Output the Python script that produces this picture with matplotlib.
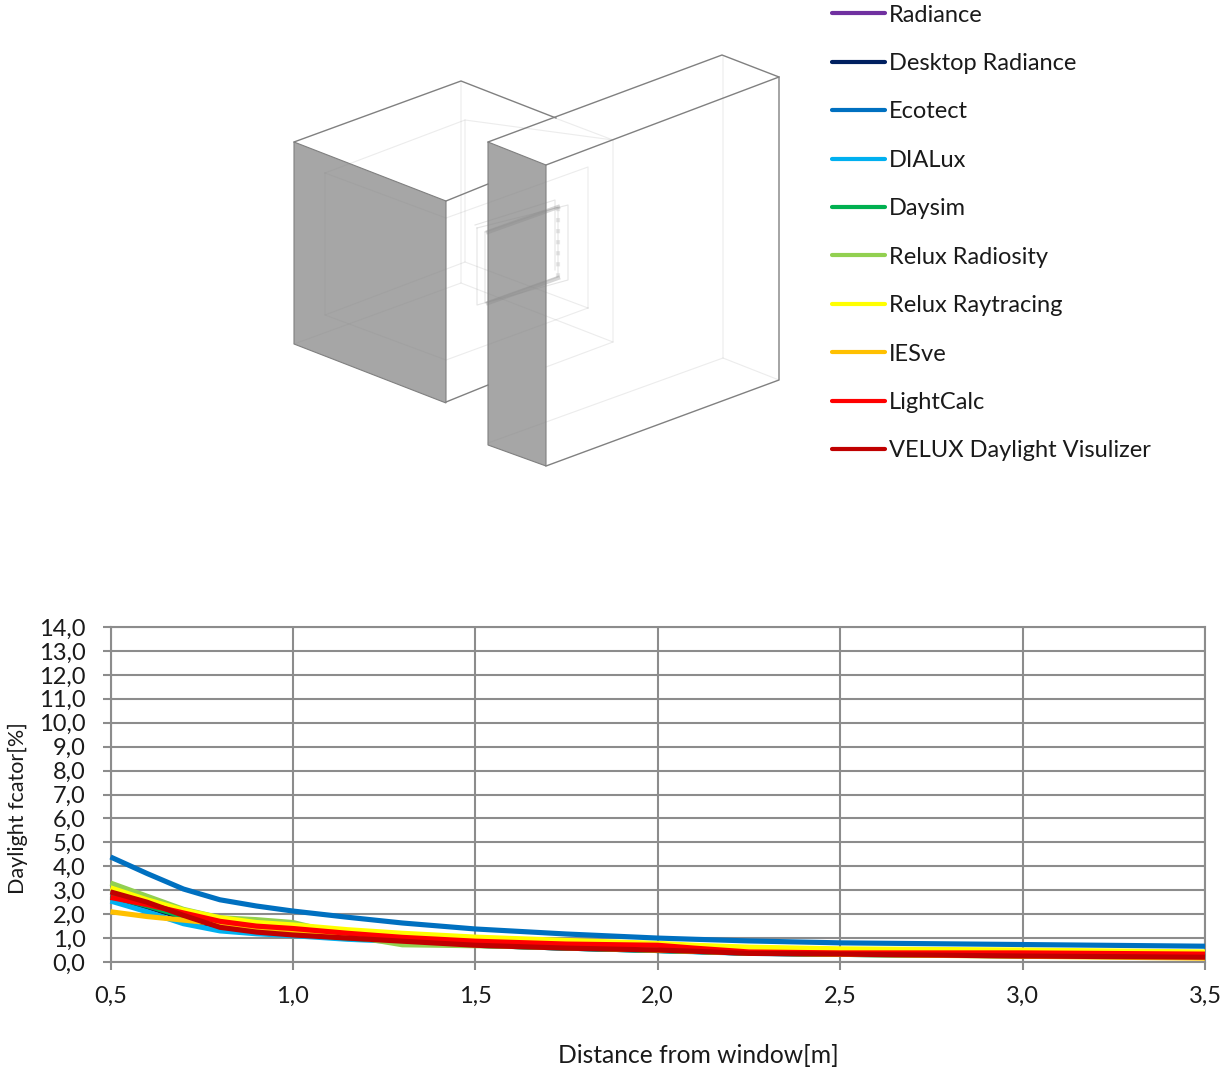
"""
Daylight factor vs distance from window, with the room sketch and legend on top.
"""

import matplotlib
matplotlib.use('Agg')
import matplotlib.pyplot as plt
from matplotlib.patches import Polygon

plt.rcParams['font.family'] = ['Lato', 'DejaVu Sans']

# --- chart values ---
distance = [0.5, 0.6, 0.7, 0.8, 0.9, 1.0, 1.15, 1.3, 1.5, 1.75, 2.0, 2.1, 2.25, 2.5, 3.0, 3.5]

radiance = [2.8, 2.4, 1.9, 1.5, 1.3, 1.2, 1.0, 0.88, 0.72, 0.6, 0.5, 0.45, 0.38, 0.33, 0.27, 0.22]
desktop_radiance = [2.7, 2.3, 1.85, 1.45, 1.28, 1.15, 1.0, 0.87, 0.7, 0.58, 0.48, 0.44, 0.37, 0.32, 0.26, 0.21]
ecotect = [4.39, 3.7, 3.05, 2.6, 2.34, 2.13, 1.87, 1.63, 1.38, 1.17, 1.0, 0.95, 0.88, 0.8, 0.73, 0.66]
dialux = [2.55, 2.1, 1.6, 1.3, 1.18, 1.1, 0.95, 0.85, 0.7, 0.58, 0.48, 0.43, 0.36, 0.32, 0.25, 0.2]
daysim = [2.75, 2.35, 1.9, 1.5, 1.3, 1.18, 1.0, 0.87, 0.7, 0.58, 0.48, 0.44, 0.37, 0.32, 0.26, 0.21]
relux_radiosity = [3.3, 2.75, 2.2, 1.85, 1.77, 1.65, 1.1, 0.72, 0.68, 0.6, 0.5, 0.45, 0.38, 0.33, 0.28, 0.24]
relux_raytracing = [3.1, 2.6, 2.17, 1.85, 1.65, 1.55, 1.35, 1.2, 1.04, 0.9, 0.78, 0.7, 0.62, 0.55, 0.5, 0.42]
iesve = [2.1, 1.9, 1.75, 1.6, 1.4, 1.25, 1.05, 0.9, 0.72, 0.6, 0.5, 0.45, 0.38, 0.32, 0.24, 0.16]
lightcalc = [2.7, 2.4, 2.05, 1.7, 1.5, 1.4, 1.2, 1.03, 0.87, 0.75, 0.7, 0.58, 0.42, 0.38, 0.38, 0.33]
velux = [2.93, 2.5, 1.95, 1.45, 1.25, 1.13, 1.0, 0.87, 0.7, 0.58, 0.5, 0.45, 0.36, 0.33, 0.25, 0.2]

series_names = ['Radiance', 'Desktop Radiance', 'Ecotect', 'DIALux', 'Daysim',
                'Relux Radiosity', 'Relux Raytracing', 'IESve', 'LightCalc',
                'VELUX Daylight Visulizer']
series_values = [radiance, desktop_radiance, ecotect, dialux, daysim,
                 relux_radiosity, relux_raytracing, iesve, lightcalc, velux]
series_colors = ['#7030a0', '#002060', '#0070c0', '#00b0f0', '#00b050',
                 '#92d050', '#ffff00', '#ffc000', '#ff0000', '#c00000']
# Ecotect sits on top of the others in the picture
series_zorder = [3, 3, 9, 3, 3, 4, 5, 4, 6, 7]

x_ticks = [0.5, 1.0, 1.5, 2.0, 2.5, 3.0, 3.5]
x_labels = ['0,5', '1,0', '1,5', '2,0', '2,5', '3,0', '3,5']
y_ticks = list(range(15))
y_labels = ['0,0', '1,0', '2,0', '3,0', '4,0', '5,0', '6,0', '7,0', '8,0', '9,0',
            '10,0', '11,0', '12,0', '13,0', '14,0']

# --- room sketch, in picture pixels ---
gray_faces = [
    [(294, 142), (446, 201), (446, 403), (294, 344)],
    [(488, 142), (546, 165), (546, 466), (488, 445)],
]
edges = [
    [(294, 142), (461, 81), (556, 118)],
    [(446, 201), (488, 184)],
    [(446, 402), (488, 385)],
    [(488, 142), (722, 55), (779, 77), (546, 165)],
    [(779, 77), (779, 380), (546, 466)],
]
faint_edges = [
    [(461, 81), (461, 283), (294, 344)],
    [(461, 283), (613, 342), (613, 140), (555, 118)],
    [(613, 342), (546, 367)],
    [(723, 56), (723, 358), (779, 380)],
    [(723, 358), (488, 443)],
    [(325, 173), (465, 120), (613, 140)],
    [(465, 120), (465, 262), (325, 315), (325, 173)],
    [(325, 173), (446, 218)],
    [(325, 315), (446, 360), (588, 308)],
    [(446, 218), (588, 167), (588, 308)],
    [(465, 262), (588, 308)],
]
window_edges = [
    [(477, 228), (568, 205), (568, 280), (477, 305), (477, 228)],
    [(485, 232), (558, 207), (558, 277), (485, 303), (485, 232)],
    [(475, 225), (555, 200), (555, 270)],
]
window_bars = [
    [(488, 232), (558, 207)],
    [(488, 303), (558, 278)],
]
window_side = [(558, 207), (558, 278)]

fig = plt.figure(figsize=(12.23, 10.7), dpi=100)

ax = fig.add_axes([110.5 / 1223, 108 / 1070, 1094.5 / 1223, 335 / 1070])
for name, values, color, z in zip(series_names, series_values, series_colors, series_zorder):
    ax.plot(distance, values, color=color, linewidth=3.7, label=name, zorder=z,
            solid_capstyle='butt', solid_joinstyle='round', clip_on=False)

ax.set_xlim(0.5, 3.5)
ax.set_ylim(0, 14)
ax.set_xticks(x_ticks)
ax.set_xticklabels(x_labels)
ax.set_yticks(y_ticks)
ax.set_yticklabels(y_labels)
ax.grid(True, color='#8c8c8c', linewidth=1.5)
ax.set_axisbelow(True)
ax.tick_params(axis='y', length=6, width=1.5, color='#8c8c8c', labelsize=17,
               labelcolor='#1a1a1a', pad=12)
ax.tick_params(axis='x', length=6, width=1.5, color='#8c8c8c', labelsize=17,
               labelcolor='#1a1a1a', pad=11)
for spine in ax.spines.values():
    spine.set_color('#8c8c8c')
    spine.set_linewidth(1.5)
ax.set_xlabel('Distance from window[m]', fontsize=17.7, color='#1a1a1a', labelpad=27,
              x=(698 - 110.5) / 1094.5)
ax.set_ylabel('Daylight fcator[%]', fontsize=15.5, color='#1a1a1a', labelpad=8, y=0.46)

# sketch goes on a full figure axes in pixel coordinates
sketch = fig.add_axes([0, 0, 1, 1], facecolor='none')
sketch.set_xlim(0, 1223)
sketch.set_ylim(1070, 0)
sketch.axis('off')
for face in gray_faces:
    sketch.add_patch(Polygon(face, closed=True, facecolor='#a6a6a6', edgecolor='#808080',
                             linewidth=0.8, zorder=1))
for line in faint_edges:
    xs, ys = zip(*line)
    sketch.plot(xs, ys, color='#8a8a8a', alpha=0.16, linewidth=0.8, zorder=2)
for line in window_edges:
    xs, ys = zip(*line)
    sketch.plot(xs, ys, color='#8a8a8a', alpha=0.22, linewidth=0.8, zorder=2)
for line in window_bars:
    xs, ys = zip(*line)
    sketch.plot(xs, ys, color='#8a8a8a', alpha=0.35, linewidth=3.0, zorder=2)
xs, ys = zip(*window_side)
sketch.plot(xs, ys, color='#8a8a8a', alpha=0.2, linewidth=3.0, linestyle=':', zorder=2)
for line in edges:
    xs, ys = zip(*line)
    sketch.plot(xs, ys, color='#808080', linewidth=1.0, zorder=3)

# legend built from the plotted lines, restyled like the picture
handles, labels = ax.get_legend_handles_labels()
leg = fig.legend(handles, labels, loc='upper left', bbox_to_anchor=(832 / 1223, 1 - 4.5 / 1070),
                 frameon=False, fontsize=17, handlelength=2.25, handletextpad=0.17,
                 labelspacing=1.162, borderpad=0, borderaxespad=0, labelcolor='#1a1a1a')
for handle in leg.get_lines():
    handle.set_linewidth(3.0)
    handle.set_solid_capstyle('round')

fig.savefig('out.png', dpi=100)
